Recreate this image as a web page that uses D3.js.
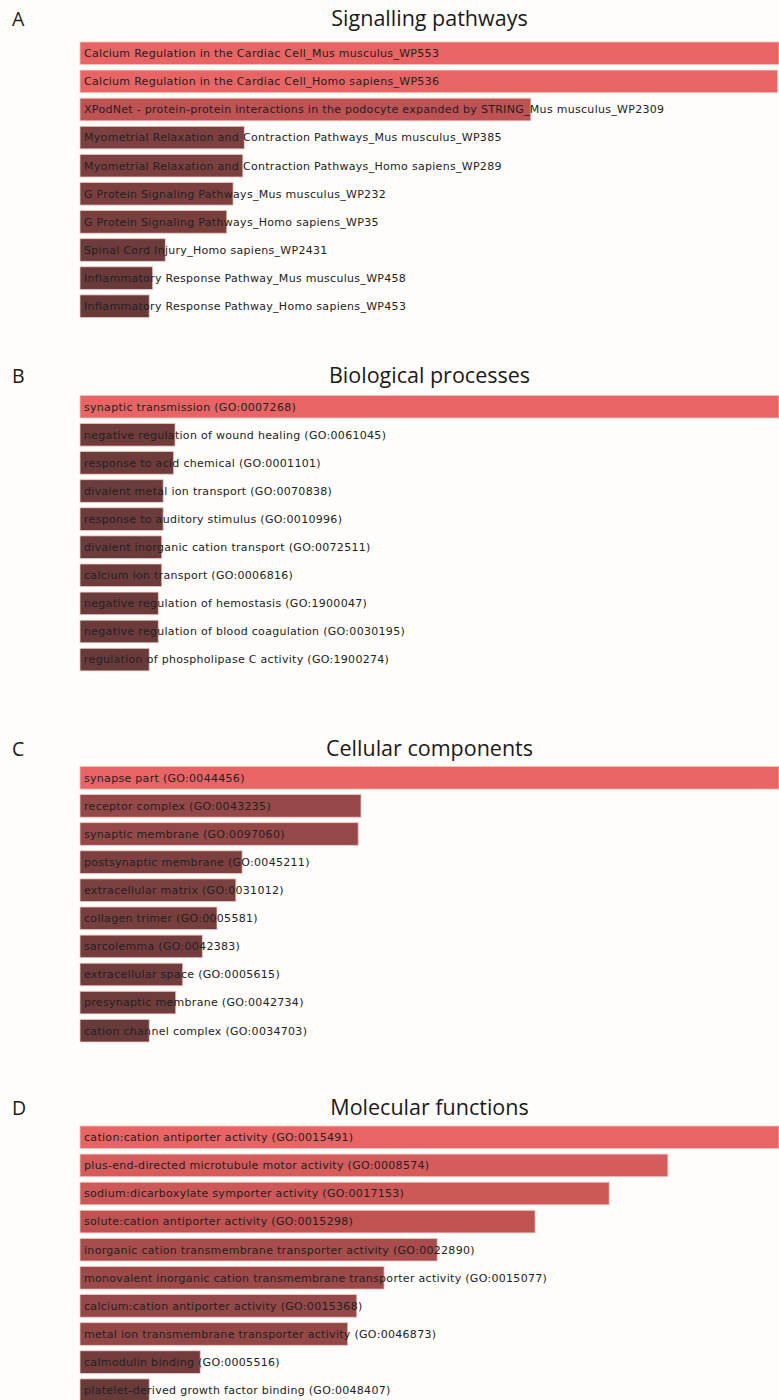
<!DOCTYPE html>
<html>
<head>
<meta charset="utf-8">
<script src="https://cdn.jsdelivr.net/npm/d3@7"></script>
<style>
  html, body { margin: 0; padding: 0; background: #fefdfc; }
  svg { display: block; }
</style>
</head>
<body>
<svg id="chart" width="779" height="1400"></svg>
<script>
// Enrichment scores (relative, top term = 100) for each term set
const pathwayTerms = [
  "Calcium Regulation in the Cardiac Cell_Mus musculus_WP553",
  "Calcium Regulation in the Cardiac Cell_Homo sapiens_WP536",
  "XPodNet - protein-protein interactions in the podocyte expanded by STRING_Mus musculus_WP2309",
  "Myometrial Relaxation and Contraction Pathways_Mus musculus_WP385",
  "Myometrial Relaxation and Contraction Pathways_Homo sapiens_WP289",
  "G Protein Signaling Pathways_Mus musculus_WP232",
  "G Protein Signaling Pathways_Homo sapiens_WP35",
  "Spinal Cord Injury_Homo sapiens_WP2431",
  "Inflammatory Response Pathway_Mus musculus_WP458",
  "Inflammatory Response Pathway_Homo sapiens_WP453"
];
const pathwayScores = [100, 99.8, 64.5, 23.5, 23.3, 21.9, 21.0, 12.2, 10.4, 9.9];

const processTerms = [
  "synaptic transmission (GO:0007268)",
  "negative regulation of wound healing (GO:0061045)",
  "response to acid chemical (GO:0001101)",
  "divalent metal ion transport (GO:0070838)",
  "response to auditory stimulus (GO:0010996)",
  "divalent inorganic cation transport (GO:0072511)",
  "calcium ion transport (GO:0006816)",
  "negative regulation of hemostasis (GO:1900047)",
  "negative regulation of blood coagulation (GO:0030195)",
  "regulation of phospholipase C activity (GO:1900274)"
];
const processScores = [100, 13.6, 13.4, 11.9, 11.9, 11.7, 11.7, 11.2, 11.2, 9.9];

const componentTerms = [
  "synapse part (GO:0044456)",
  "receptor complex (GO:0043235)",
  "synaptic membrane (GO:0097060)",
  "postsynaptic membrane (GO:0045211)",
  "extracellular matrix (GO:0031012)",
  "collagen trimer (GO:0005581)",
  "sarcolemma (GO:0042383)",
  "extracellular space (GO:0005615)",
  "presynaptic membrane (GO:0042734)",
  "cation channel complex (GO:0034703)"
];
const componentScores = [100, 40.2, 39.8, 23.2, 22.3, 19.6, 17.5, 14.7, 13.7, 9.9];

const functionTerms = [
  "cation:cation antiporter activity (GO:0015491)",
  "plus-end-directed microtubule motor activity (GO:0008574)",
  "sodium:dicarboxylate symporter activity (GO:0017153)",
  "solute:cation antiporter activity (GO:0015298)",
  "inorganic cation transmembrane transporter activity (GO:0022890)",
  "monovalent inorganic cation transmembrane transporter activity (GO:0015077)",
  "calcium:cation antiporter activity (GO:0015368)",
  "metal ion transmembrane transporter activity (GO:0046873)",
  "calmodulin binding (GO:0005516)",
  "platelet-derived growth factor binding (GO:0048407)"
];
const functionScores = [100, 84.1, 75.7, 65.1, 51.1, 43.5, 39.6, 38.3, 17.2, 9.9];

const panelLetters = ["A", "B", "C", "D"];
const panelTitles = ["Signalling pathways", "Biological processes", "Cellular components", "Molecular functions"];

const panels = [
  { letter: panelLetters[0], title: panelTitles[0], terms: pathwayTerms, scores: pathwayScores },
  { letter: panelLetters[1], title: panelTitles[1], terms: processTerms, scores: processScores },
  { letter: panelLetters[2], title: panelTitles[2], terms: componentTerms, scores: componentScores },
  { letter: panelLetters[3], title: panelTitles[3], terms: functionTerms, scores: functionScores }
];

// layout
const barLeft = 80, barRight = 779;
const panelTop = [42, 395.4, 766.5, 1126];     // top of first bar in each panel
const titleGap = [16, 12.5, 10.5, 11.5];        // title baseline sits this far above the first bar
const rowStep = 28.1, barH = 22.6;

const svg = d3.select("#chart");
const x = d3.scaleLinear().domain([0, 100]).range([barLeft, barRight]);
const color = d3.scaleLinear().domain([0, 40, 65, 100]).range(["#5b3535", "#954848", "#c05252", "#e96464"]);

panels.forEach((p, i) => {
  const g = svg.append("g");
  const top = panelTop[i];
  const n = p.terms.length;
  const y = d3.scaleBand()
    .domain(d3.range(n))
    .range([top, top + rowStep * (n - 1) + barH])
    .paddingInner((rowStep - barH) / rowStep)
    .paddingOuter(0)
    .align(0);

  g.append("text")
    .attr("x", 12)
    .attr("y", top - titleGap[i])
    .attr("font-family", "Open Sans, Lato, sans-serif")
    .attr("font-size", 19.5)
    .attr("fill", "#1a1a1a")
    .text(p.letter);

  g.append("text")
    .attr("x", (barLeft + barRight) / 2)
    .attr("y", top - titleGap[i])
    .attr("text-anchor", "middle")
    .attr("font-family", "Open Sans, Lato, sans-serif")
    .attr("font-size", 21.5)
    .attr("fill", "#1a1a1a")
    .text(p.title);

  const rows = g.selectAll("g.row")
    .data(p.terms.map((t, k) => ({ term: t, score: p.scores[k], k })))
    .join("g")
    .attr("class", "row");

  rows.append("rect")
    .attr("x", x(0))
    .attr("y", d => y(d.k))
    .attr("width", d => x(d.score) - x(0))
    .attr("height", y.bandwidth())
    .attr("fill", d => color(d.score))
    .attr("stroke", "#f6c6be")
    .attr("stroke-width", 0.8);

  rows.append("text")
    .attr("x", x(0) + 4)
    .attr("y", d => y(d.k) + y.bandwidth() / 2)
    .attr("dy", "0.35em")
    .attr("font-family", "DejaVu Sans, sans-serif")
    .attr("font-size", 11)
    .attr("letter-spacing", 0.3)
    .attr("fill", "#222")
    .text(d => d.term);
});
</script>
</body>
</html>
